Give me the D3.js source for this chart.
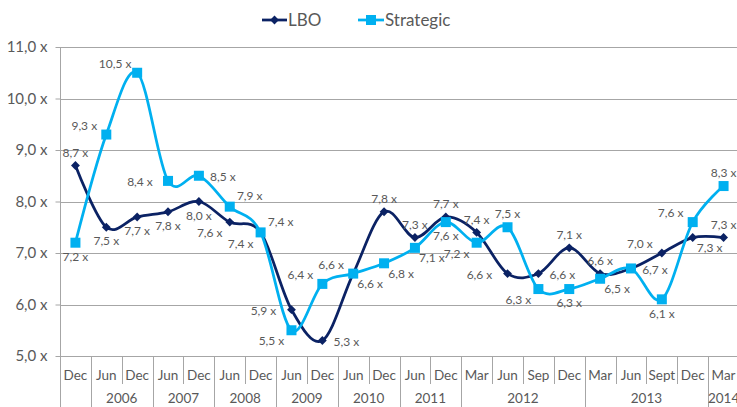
<!DOCTYPE html>
<html>
<head>
<meta charset="utf-8">
<script src="https://cdnjs.cloudflare.com/ajax/libs/d3/7.8.5/d3.min.js"></script>
<style>
  body { margin: 0; background: #fff; }
  text { font-family: Lato, "Open Sans", sans-serif; fill: #595959; }
</style>
</head>
<body>
<script>
// periods and year groups
var periods = ["Dec","Jun","Dec","Jun","Dec","Jun","Dec","Jun","Dec","Jun","Dec","Jun","Dec",
               "Mar","Jun","Sep","Dec","Mar","Jun","Sept","Dec","Mar"];
var yearLabels = ["", "2006", "2007", "2008", "2009", "2010", "2011", "2012", "2013", "2014"];
var yearSpans  = [1, 2, 2, 2, 2, 2, 2, 4, 4, 1];

var lbo       = [8.7, 7.5, 7.7, 7.8, 8.0, 7.6, 7.4, 5.9, 5.3, 6.6, 7.8, 7.3, 7.7, 7.4, 6.6, 6.6, 7.1, 6.6, 6.7, 7.0, 7.3, 7.3];
var strategic = [7.2, 9.3, 10.5, 8.4, 8.5, 7.9, 7.4, 5.5, 6.4, 6.6, 6.8, 7.1, 7.6, 7.2, 7.5, 6.3, 6.3, 6.5, 6.7, 6.1, 7.6, 8.3];

// where each data label sits relative to its point
var lboLabelPos   = ["t","b","b","b","b","bl","bl","l","r","br","t","t","t","t","l","r","t","t","","tl","br","t"];
var stratLabelPos = ["b","tl","tl","l","r","tr","tr","bl","tl","tl","br","br","b","bl","t","bl","b","br","r","b","tl","t"];

var yTicks = [5, 6, 7, 8, 9, 10, 11];

var W = 737, H = 407;
var plotL = 60, plotT = 47, plotB = 356, plotR = 739;

var svg = d3.select("body").append("svg")
  .attr("width", W).attr("height", H);

var x = d3.scaleBand().domain(d3.range(periods.length)).range([plotL, plotR]);
var y = d3.scaleLinear().domain([5, 11]).range([plotB, plotT]);
var cx = function(i) { return x(i) + x.bandwidth() / 2; };

var fmt = function(v) { return d3.format(".1f")(v).replace(".", ",") + " x"; };

// gridlines
svg.append("g").selectAll("line").data(yTicks).enter().append("line")
  .attr("x1", plotL).attr("x2", W)
  .attr("y1", function(d) { return Math.round(y(d)) + 0.5; })
  .attr("y2", function(d) { return Math.round(y(d)) + 0.5; })
  .attr("stroke", "#a6a6a6").attr("stroke-width", 1);

// y axis
var yAxis = d3.axisLeft(y).tickValues(yTicks).tickSize(5).tickPadding(8)
  .tickFormat(fmt);
var gy = svg.append("g").attr("transform", "translate(" + (plotL + 0.5) + ",0)").call(yAxis);
gy.select(".domain").remove();
gy.selectAll(".tick line").attr("stroke", "#a6a6a6");
gy.selectAll(".tick text").style("font-size", "15px").attr("fill", "#595959");
svg.append("line").attr("x1", plotL + 0.5).attr("x2", plotL + 0.5)
  .attr("y1", plotT).attr("y2", H).attr("stroke", "#a6a6a6");

// x axis: category labels and separators
var gx = svg.append("g");
gx.selectAll("text.cat").data(periods).enter().append("text")
  .attr("class", "cat")
  .attr("x", function(d, i) { return cx(i); })
  .attr("y", 380)
  .attr("text-anchor", "middle")
  .style("font-size", "13.5px")
  .text(function(d) { return d; });

var groupEnds = [];
var acc = 0;
yearSpans.forEach(function(n) { acc += n; groupEnds.push(acc); });

d3.range(1, periods.length + 1).forEach(function(k) {
  var xx = Math.round(x(0) + k * x.step()) + 0.5;
  var isGroup = groupEnds.indexOf(k) >= 0;
  gx.append("line").attr("x1", xx).attr("x2", xx)
    .attr("y1", plotB).attr("y2", isGroup ? H : 384)
    .attr("stroke", "#a6a6a6");
});

var start = 0;
yearSpans.forEach(function(n, gi) {
  var mid = (cx(start) + cx(start + n - 1)) / 2;
  gx.append("text").attr("x", mid).attr("y", 403)
    .attr("text-anchor", "middle").style("font-size", "13.5px")
    .text(yearLabels[gi]);
  start += n;
});

// lines
var line = d3.line()
  .x(function(d, i) { return cx(i); })
  .y(function(d) { return y(d); })
  .curve(d3.curveCardinal.tension(0));

var lboColor = "#0b2264", stratColor = "#00b0f0";

svg.append("path").datum(lbo).attr("d", line)
  .attr("fill", "none").attr("stroke", lboColor).attr("stroke-width", 2.75);
svg.append("path").datum(strategic).attr("d", line)
  .attr("fill", "none").attr("stroke", stratColor).attr("stroke-width", 2.75);

// markers
svg.append("g").selectAll("path").data(lbo).enter().append("path")
  .attr("d", d3.symbol().type(d3.symbolDiamond2).size(50))
  .attr("transform", function(d, i) { return "translate(" + cx(i) + "," + y(d) + ")"; })
  .attr("fill", lboColor);
svg.append("g").selectAll("rect").data(strategic).enter().append("rect")
  .attr("x", function(d, i) { return cx(i) - 5; })
  .attr("y", function(d) { return y(d) - 5; })
  .attr("width", 10).attr("height", 10)
  .attr("fill", stratColor);

// data labels
var offsets = {
  t: [0, -13], b: [0, 14], l: [-28, 1], r: [24, 1],
  tl: [-22, -9], tr: [20, -11], bl: [-20, 11], br: [17, 10]
};
[[lbo, lboLabelPos], [strategic, stratLabelPos]].forEach(function(s) {
  var vals = s[0], pos = s[1];
  var g = svg.append("g");
  vals.forEach(function(v, i) {
    if (!pos[i]) return;
    var o = offsets[pos[i]];
    g.append("text")
      .attr("x", cx(i) + o[0])
      .attr("y", y(v) + o[1])
      .attr("dy", "0.35em")
      .attr("text-anchor", "middle")
      .style("font-size", "12px")
      .text(fmt(v));
  });
});

// legend
var lg = svg.append("g");
lg.append("line").attr("x1", 262).attr("x2", 287).attr("y1", 20).attr("y2", 20)
  .attr("stroke", lboColor).attr("stroke-width", 2.75);
lg.append("path").attr("d", d3.symbol().type(d3.symbolDiamond2).size(50))
  .attr("transform", "translate(274.5,20)").attr("fill", lboColor);
lg.append("text").attr("x", 288).attr("y", 20).attr("dy", "0.35em")
  .style("font-size", "17px").attr("fill", "#404040").text("LBO");
lg.append("line").attr("x1", 358).attr("x2", 384).attr("y1", 20).attr("y2", 20)
  .attr("stroke", stratColor).attr("stroke-width", 2.75);
lg.append("rect").attr("x", 366).attr("y", 15).attr("width", 10).attr("height", 10)
  .attr("fill", stratColor);
lg.append("text").attr("x", 385).attr("y", 20).attr("dy", "0.35em")
  .style("font-size", "17px").attr("fill", "#404040").text("Strategic");
</script>
</body>
</html>
